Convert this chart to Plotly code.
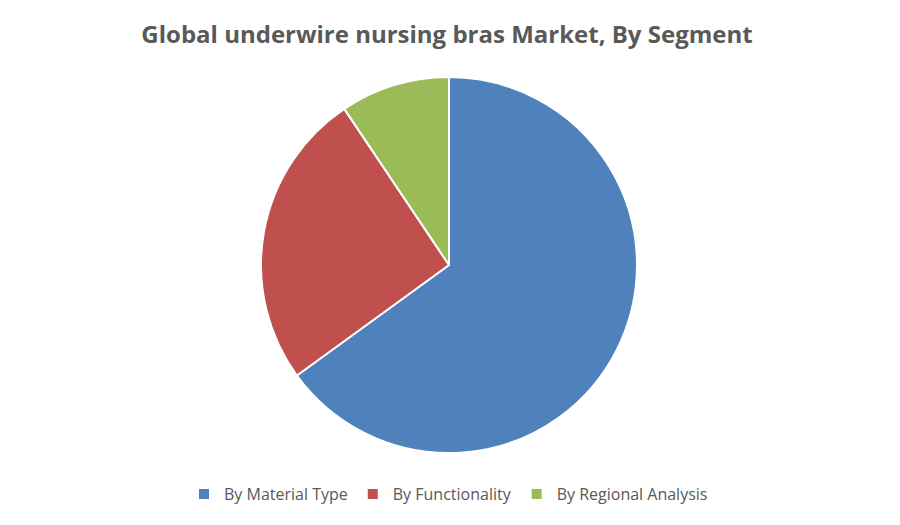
import plotly.graph_objects as go

categories = ["By Material Type", "By Functionality", "By Regional Analysis"]
values = [65.0, 25.6, 9.4]
colors = ["#4F81BD", "#C0504D", "#9BBB59"]

W, H = 900, 525
# page body adds an 8px offset; compensate
cx, cy, r = 441, 257, 188

fig = go.Figure(go.Pie(
    labels=categories,
    values=values,
    sort=False,
    direction="clockwise",
    rotation=0,
    textinfo="none",
    hoverinfo="label+percent",
    marker=dict(colors=colors, line=dict(color="white", width=2)),
    domain=dict(x=[(cx - r) / W, (cx + r) / W], y=[(H - cy - r) / H, (H - cy + r) / H]),
))

fig.update_layout(
    width=W, height=H,
    margin=dict(l=0, r=0, t=0, b=0),
    paper_bgcolor="white",
    plot_bgcolor="white",
    title=dict(
        text="<b>Global underwire nursing bras Market, By Segment</b>",
        x=(447 - 8) / W, xanchor="center", y=(H - 27) / H, yanchor="middle",
        font=dict(family="Open Sans", size=24, color="#595959"),
    ),
    legend=dict(
        orientation="h", x=(184 - 8) / W, xanchor="left", y=(H - 486) / H, yanchor="middle",
        font=dict(family="Open Sans", size=16, color="#595959"),
        itemwidth=30,
    ),
    showlegend=True,
)

fig.write_html("out.html")
